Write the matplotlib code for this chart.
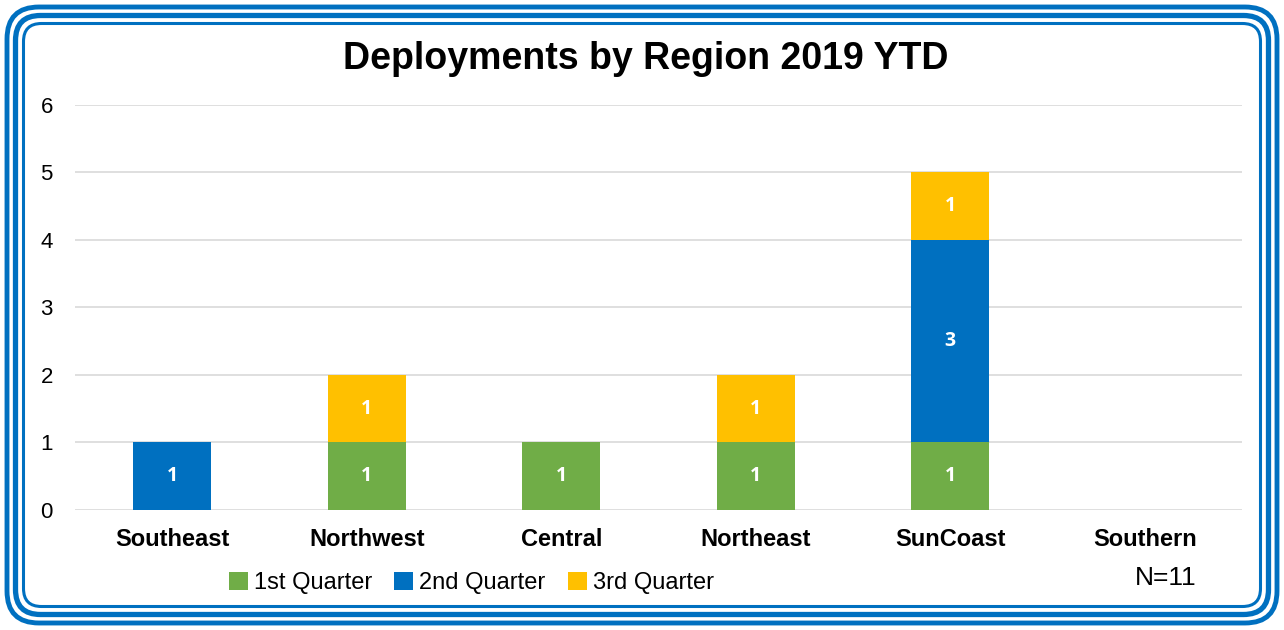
import matplotlib.pyplot as plt
from matplotlib.patches import FancyBboxPatch
import numpy as np

# data
regions = ["Southeast", "Northwest", "Central", "Northeast", "SunCoast", "Southern"]
q1 = [0, 1, 1, 1, 1, 0]
q2 = [1, 0, 0, 0, 3, 0]
q3 = [0, 1, 0, 1, 1, 0]
series_names = ["1st Quarter", "2nd Quarter", "3rd Quarter"]
colors = ["#70AD47", "#0070C0", "#FFC000"]

plt.rcParams['font.family'] = ['Liberation Sans', 'DejaVu Sans']

fig = plt.figure(figsize=(12.84, 6.3), dpi=100)
ax = fig.add_axes([0.0584, 0.1905, 0.909, 0.6429])

x = np.arange(len(regions))
bottom = np.zeros(len(regions))
for vals, name, c in zip([q1, q2, q3], series_names, colors):
    bars = ax.bar(x, vals, width=0.4, bottom=bottom, color=c, label=name, zorder=3)
    for b, v, b0 in zip(bars, vals, bottom):
        if v > 0:
            ax.text(b.get_x() + b.get_width() / 2, b0 + v / 2, str(v),
                    ha='center', va='center', color='white', fontsize=14,
                    fontweight='bold', family=['Open Sans', 'DejaVu Sans'], zorder=4)
    bottom = bottom + np.array(vals)

ax.set_xlim(-0.5, len(regions) - 0.5)
ax.set_ylim(0, 6)
ax.set_yticks(range(7))
ax.yaxis.grid(True, color='#D9D9D9', linewidth=1.2, zorder=0)
for s in ax.spines.values():
    s.set_visible(False)
ax.tick_params(axis='both', length=0, labelsize=16)
ax.tick_params(axis='y', pad=16)
ax.tick_params(axis='x', pad=13)
ax.set_xticks(x)
ax.set_xticklabels(regions, fontweight='bold', fontsize=17)

fig.text(0.503, 0.907, "Deployments by Region 2019 YTD", ha='center', va='center',
         fontsize=27, fontweight='bold')

fig.legend(loc='center', bbox_to_anchor=(0.367, 0.074), ncol=3, frameon=False,
           fontsize=17, handlelength=0.8, handleheight=0.8, handletextpad=0.25,
           columnspacing=0.95)
fig.text(0.908, 0.082, "N=11", ha='center', va='center', fontsize=19)

# rounded triple border in pixel units (dpi_scale_trans: inches)
W, H = 12.84, 6.3
for off, lw, rad in [(0.07, 3.5, 0.32), (0.155, 3.8, 0.25), (0.235, 2.2, 0.18)]:
    p = FancyBboxPatch((off, off), W - 2 * off, H - 2 * off,
                       boxstyle="round,pad=0,rounding_size=%f" % rad,
                       transform=fig.dpi_scale_trans, fill=False,
                       edgecolor='#0070C0', linewidth=lw)
    fig.add_artist(p)

fig.savefig("out.png", dpi=100)
